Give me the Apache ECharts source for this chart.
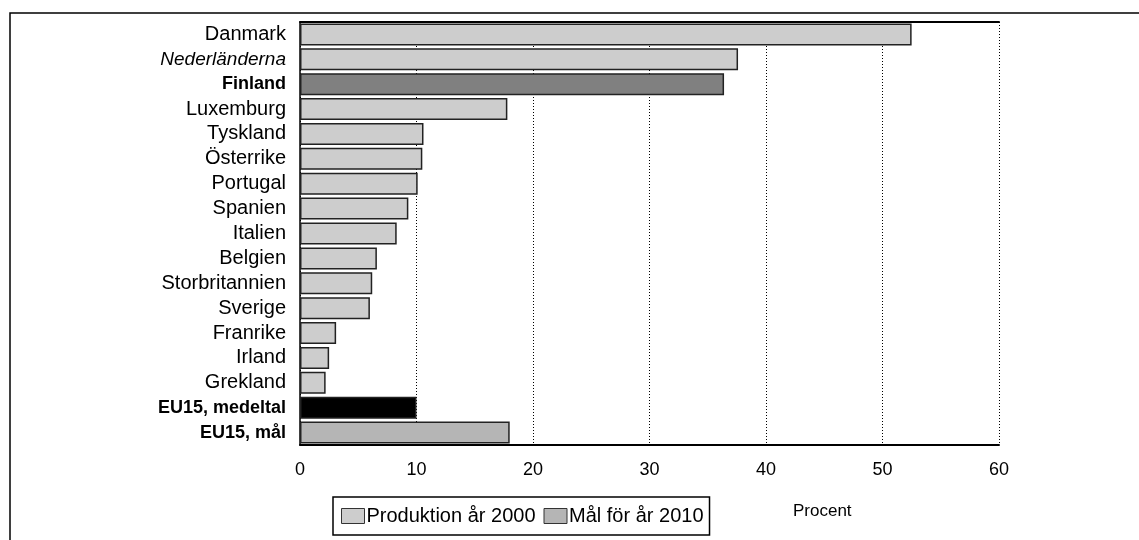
<!DOCTYPE html>
<html>
<head>
<meta charset="utf-8">
<script src="https://cdn.jsdelivr.net/npm/echarts@6/dist/echarts.min.js"></script>
<style>html,body{margin:0;padding:0;background:#fff}#c{width:1139px;height:540px}</style>
</head>
<body>
<div id="c"></div>
<script>
var categories = ['Danmark','Nederländerna','Finland','Luxemburg','Tyskland','Österrike','Portugal','Spanien','Italien','Belgien','Storbritannien','Sverige','Franrike','Irland','Grekland','EU15, medeltal','EU15, mål'];
var production2000 = [52.5, 37.6, 36.4, 17.8, 10.6, 10.5, 10.1, 9.3, 8.3, 6.6, 6.2, 6.0, 3.1, 2.5, 2.2, 10.0, null];
var target2010 = [null, null, null, null, null, null, null, null, null, null, null, null, null, null, null, null, 18.0];
var xTicks = [0, 10, 20, 30, 40, 50, 60];
var boldRows = ['Finland', 'EU15, medeltal', 'EU15, mål'];
var italicRows = ['Nederländerna'];

var FONT = '"Liberation Sans", Arial, sans-serif';
var prodColor = '#cdcdcd', finColor = '#808080', avgColor = '#000000', targetColor = '#b5b5b5';

var prodData = production2000.map(function (v, i) {
  if (v === null) return '-';
  var c = prodColor;
  if (categories[i] === 'Finland') c = finColor;
  if (categories[i] === 'EU15, medeltal') c = avgColor;
  return { value: v, itemStyle: { color: c } };
});
var targetData = target2010.map(function (v) { return v === null ? '-' : v; });

var chart = echarts.init(document.getElementById('c'));
chart.setOption({
  animation: false,
  backgroundColor: '#fff',
  textStyle: { fontFamily: FONT },
  grid: { left: 300, right: 140, top: 22, bottom: 95 },
  xAxis: [{
    type: 'value', min: 0, max: 60, interval: 10, position: 'bottom',
    axisLine: { show: true, lineStyle: { color: '#000', width: 2 } },
    axisTick: { show: false },
    axisLabel: { color: '#000', fontSize: 18, fontFamily: FONT, margin: 16,
      formatter: function (v) { return xTicks.indexOf(v) >= 0 ? String(v) : ''; } },
    splitLine: { show: true, lineStyle: { color: '#000', type: [1, 2], width: 1 } }
  }, {
    type: 'value', min: 0, max: 60, interval: 10, position: 'top',
    axisLine: { show: true, lineStyle: { color: '#000', width: 2 } },
    axisTick: { show: false }, axisLabel: { show: false }, splitLine: { show: false }
  }],
  yAxis: {
    type: 'category', data: categories, inverse: true,
    axisLine: { show: true, lineStyle: { color: '#000', width: 1.5 } },
    axisTick: { show: false },
    axisLabel: {
      interval: 0, hideOverlap: false,
      margin: 14, color: '#000', fontSize: 20, lineHeight: 20, fontFamily: FONT,
      formatter: function (v) {
        if (boldRows.indexOf(v) >= 0) return '{b|' + v + '}';
        if (italicRows.indexOf(v) >= 0) return '{i|' + v + '}';
        return v;
      },
      rich: {
        b: { fontWeight: 'bold', fontSize: 18, lineHeight: 20, color: '#000', fontFamily: FONT },
        i: { fontStyle: 'italic', fontSize: 19, lineHeight: 20, color: '#000', fontFamily: FONT }
      }
    }
  },
  legend: {
    left: 333, top: 497, orient: 'horizontal',
    padding: [9, 6, 9, 8], itemGap: 8, itemWidth: 23, itemHeight: 15,
    borderColor: '#000', borderWidth: 1.5,
    textStyle: { color: '#000', fontSize: 20, lineHeight: 20, fontFamily: FONT, padding: [0, 0, 0, -3] },
    data: [
      { name: 'Produktion år 2000', icon: 'rect', itemStyle: { color: prodColor, borderColor: '#333', borderWidth: 1 } },
      { name: 'Mål för år 2010', icon: 'rect', itemStyle: { color: targetColor, borderColor: '#333', borderWidth: 1 } }
    ]
  },
  graphic: [
    { type: 'rect', silent: true, z: -1, shape: { x: 10, y: 13, width: 1200, height: 600 },
      style: { fill: 'none', stroke: '#000', lineWidth: 1.5 } },
    { type: 'text', left: 793, top: 503, style: { text: 'Procent', fill: '#000', font: '17px ' + FONT } }
  ],
  series: [{
    name: 'Produktion år 2000', type: 'bar', stack: 'a', barWidth: 22,
    itemStyle: { color: prodColor, borderColor: '#222', borderWidth: 1.5 },
    data: prodData
  }, {
    name: 'Mål för år 2010', type: 'bar', stack: 'a', barWidth: 22,
    itemStyle: { color: targetColor, borderColor: '#222', borderWidth: 1.5 },
    data: targetData
  }]
});
</script>
</body>
</html>
